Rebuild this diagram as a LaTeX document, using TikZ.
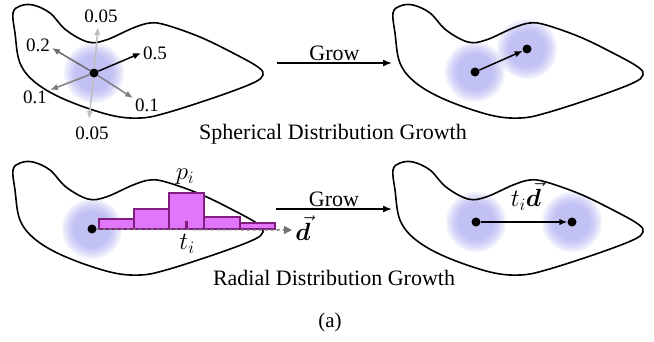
\documentclass[tikz,border=0pt]{standalone}
\usepackage{fontspec}
\setmainfont{Liberation Serif}
\usepackage{bm}
\usetikzlibrary{arrows.meta}

\definecolor{glowcol}{RGB}{160,160,240}
\definecolor{barfill}{RGB}{226,118,250}
\definecolor{baredge}{RGB}{128,30,128}

\tikzset{
    blobline/.style={line width=1.6pt, black},
    dotnode/.style={circle, fill=black, inner sep=0pt, minimum size=9pt},
    growarrow/.style={-{Latex[length=9pt, width=7pt]}, line width=1.5pt},
    probarrow/.style={-{Latex[length=8pt, width=6.5pt]}, line width=1.5pt},
    problabel/.style={font=\fontsize{19}{20}\selectfont, inner sep=1pt},
    caption/.style={font=\fontsize{22}{24}\selectfont},
    mathlabel/.style={font=\fontsize{23}{24}\selectfont, inner sep=1pt},
    histbar/.style={draw=baredge, fill=barfill, line width=1.4pt},
}

% blob outline, top-left corner at (#1,#2)
\newcommand{\blobat}[2]{%
    \draw[blobline, shift={(#1,#2)}] plot[smooth cycle, tension=0.6] coordinates {
        (0,13) (7,6) (20,5) (37,13) (53,30) (75,42) (93,40) (120,28) (137,23)
        (153,25) (187,37) (220,53) (245,67) (250,75) (240,83) (203,97) (153,113)
        (127,118) (97,115) (53,100) (23,83) (7,63) (2,33)};
}
% soft halo round a point
\newcommand{\glowat}[1]{%
    \foreach \r in {18,20,...,30} {
        \fill[glowcol, opacity=0.14] #1 circle (\r pt);
    }
}

\begin{document}
\begin{tikzpicture}[x=1pt, y=-1pt]
    \useasboundingbox (0,0) rectangle (654,341);

    % Spherical: before
    \glowat{(94,73)}
    \blobat{13}{0}
    \node[dotnode] (s0) at (94,73) {};
    \coordinate (t05u) at (98,27);
    \coordinate (t02) at (52,48);
    \coordinate (t01l) at (50,90);
    \coordinate (t01r) at (133,98);
    \coordinate (t05d) at (89,119);
    \coordinate (t5) at (141,53);
    \draw[probarrow, black!25] (s0) -- (t05u);
    \draw[probarrow, black!25] (s0) -- (t05d);
    \draw[probarrow, black!58] (s0) -- (t02);
    \draw[probarrow, black!50] (s0) -- (t01l);
    \draw[probarrow, black!50] (s0) -- (t01r);
    \draw[probarrow, black] (s0) -- (t5);
    \node[problabel] (l05u) at (101,16) {0.05};
    \node[problabel] (l05d) at (92,133) {0.05};
    \node[problabel] (l02) at (38,45) {0.2};
    \node[problabel] (l01l) at (35,97) {0.1};
    \node[problabel] (l01r) at (147,105) {0.1};
    \node[problabel] (l5) at (155,53) {0.5};

    % Grow arrow (top)
    \coordinate (ga1) at (277,63);
    \coordinate (gb1) at (392,63);
    \draw[growarrow] (ga1) -- node[caption, above, yshift=-2pt] {Grow} (gb1);
    \node[caption] (cap1) at (333,134) {Spherical Distribution Growth};

    % Spherical: after
    \glowat{(475,72)}
    \glowat{(527,49)}
    \blobat{393}{0}
    \node[dotnode] (s1) at (475,72) {};
    \node[dotnode] (s2) at (527,49) {};
    \draw[probarrow] (s1) -- (s2);

    % Radial: before
    \glowat{(92,229)}
    \blobat{13}{157}
    \node[dotnode] (r0) at (92,229) {};
    \foreach \xa/\xb/\yt in {99/134/219, 134/169/209, 169/204/193, 204/240/217, 240/275/223} {
        \draw[histbar] (\xa,229) rectangle (\xb,\yt);
    }
    \fill[baredge] (184.5,221) rectangle (187.5,229);
    \coordinate (dtip) at (292,230);
    \draw[dashed, line width=1.5pt, black!55, -{Triangle[length=8pt, width=8pt]}] (r0) -- (dtip);
    \node[mathlabel] (dl) at (303,228) {$\vec{\bm d}$};
    \node[mathlabel] (pl) at (185,177) {$p_i$};
    \node[mathlabel] (tl) at (187,244) {$t_i$};

    % Grow arrow (bottom)
    \coordinate (ga2) at (276,209);
    \coordinate (gb2) at (392,209);
    \draw[growarrow] (ga2) -- node[caption, above, yshift=-2pt] {Grow} (gb2);
    \node[caption] (cap2) at (334,278) {Radial Distribution Growth};

    % Radial: after
    \glowat{(476,222)}
    \glowat{(572,222)}
    \blobat{393}{157}
    \node[dotnode] (q1) at (476,222) {};
    \node[dotnode] (q2) at (572,222) {};
    \draw[probarrow] (q1) -- (q2);
    \node[mathlabel] (tdl) at (526,196) {$t_i\vec{\bm d}$};

    \node[font=\fontsize{21}{23}\selectfont] (sub) at (330,322) {(a)};
\end{tikzpicture}
\end{document}
